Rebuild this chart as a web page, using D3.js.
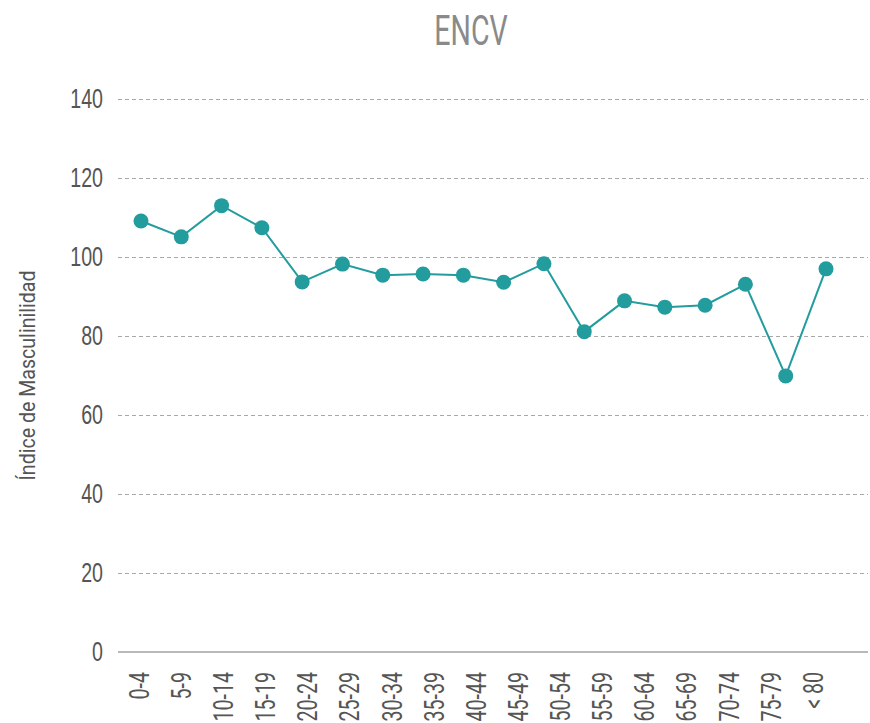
<!DOCTYPE html>
<html>
<head>
<meta charset="utf-8">
<script src="https://cdn.jsdelivr.net/npm/d3@7"></script>
<style>
  html, body { margin: 0; padding: 0; background: #fff; }
  svg { display: block; font-family: Roboto, "Noto Sans", sans-serif; }
</style>
</head>
<body>
<div id="chart"></div>
<script>
// age groups shown on the x axis
const categories = ["0-4", "5-9", "10-14", "15-19", "20-24", "25-29", "30-34", "35-39",
  "40-44", "45-49", "50-54", "55-59", "60-64", "65-69", "70-74", "75-79", "< 80"]
// masculinity index, one value per point drawn
const values = [109.1, 105.1, 113.0, 107.4, 93.7, 98.2, 95.4, 95.7, 95.4,
  93.6, 98.3, 81.1, 88.9, 87.3, 87.8, 93.1, 69.9, 97.0]
const yTicks = [0, 20, 40, 60, 80, 100, 120, 140]
const title = "ENCV"
const yTitle = "Índice de Masculinilidad"

const width = 870, height = 723
const margin = {top: 99, right: 2, bottom: 71, left: 118}
const lineColor = "#239c9e"

let svg = d3.select("#chart").append("svg")
    .attr("width", width)
    .attr("height", height)

// squeeze Roboto into something close to a condensed face
function condense(sel, k) {
    sel.each(function () {
        let len = this.getComputedTextLength()
        d3.select(this)
            .attr("textLength", len * k)
            .attr("lengthAdjust", "spacingAndGlyphs")
    })
}

// scales
let y = d3.scaleLinear()
    .domain([0, 140])
    .range([height - margin.bottom, margin.top])
let xLabel = d3.scaleBand()
    .domain(categories)
    .range([margin.left, width - 36])
let x = d3.scalePoint()
    .domain(d3.range(values.length))
    .range([margin.left + 23, width - 44])

// grid + y labels
let yAxis = svg.append("g")
    .attr("transform", `translate(${margin.left},0)`)
    .call(d3.axisLeft(y)
        .tickValues(yTicks)
        .tickSize(-(width - margin.left - margin.right))
        .tickPadding(15))
yAxis.select(".domain").remove()
yAxis.selectAll(".tick line")
    .attr("stroke", "#a8a8a8")
    .attr("stroke-dasharray", "4,3")
    .attr("stroke-width", 1)
    .filter(d => d === 0).remove()
yAxis.selectAll(".tick text")
    .attr("fill", "#555")
    .style("font-size", "28px")
    .call(condense, 0.7)

// baseline
svg.append("line")
    .attr("x1", margin.left)
    .attr("x2", width - margin.right)
    .attr("y1", y(0))
    .attr("y2", y(0))
    .attr("stroke", "#a0a0a0")
    .attr("stroke-width", 1.5)

// x labels, rotated
svg.append("g").selectAll("text")
    .data(categories)
    .join("text")
    .attr("transform", d => `translate(${xLabel(d) + xLabel.bandwidth() / 2},${y(0) + 20}) rotate(-90)`)
    .attr("dy", "0.35em")
    .attr("text-anchor", "end")
    .attr("fill", "#555")
    .style("font-size", "28px")
    .text(d => d)
    .call(condense, 0.7)

// the line and its points
let line = d3.line()
    .x((d, i) => x(i))
    .y(d => y(d))
svg.append("path")
    .datum(values)
    .attr("d", line)
    .attr("fill", "none")
    .attr("stroke", lineColor)
    .attr("stroke-width", 2)
svg.append("g").selectAll("circle")
    .data(values)
    .join("circle")
    .attr("cx", (d, i) => x(i))
    .attr("cy", d => y(d))
    .attr("r", 7.5)
    .attr("fill", lineColor)

// titles
svg.append("text")
    .attr("x", 471)
    .attr("y", 45)
    .attr("text-anchor", "middle")
    .attr("fill", "#8a8a8a")
    .style("font-size", "42px")
    .text(title)
    .call(condense, 0.68)
svg.append("text")
    .attr("transform", `translate(27,${(y(0) + y(140)) / 2}) rotate(-90)`)
    .attr("dy", "0.35em")
    .attr("text-anchor", "middle")
    .attr("fill", "#555")
    .style("font-size", "22px")
    .text(yTitle)
    .call(condense, 0.89)
</script>
</body>
</html>
